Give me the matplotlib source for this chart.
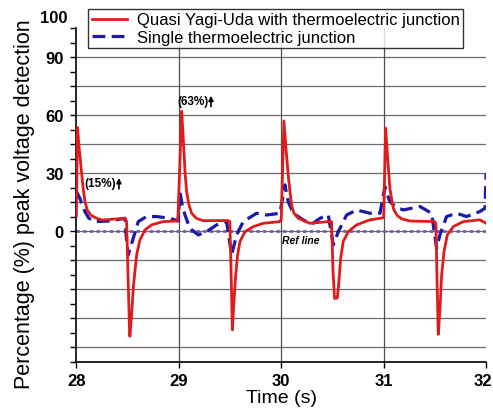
import matplotlib
matplotlib.use("Agg")
import matplotlib.pyplot as plt
import matplotlib.transforms as mtransforms
import numpy as np

# data (time in s, value in %)
red_t = [28.000, 28.010, 28.027, 28.049, 28.066, 28.083, 28.106, 28.139, 28.197, 28.254, 28.474,
         28.490, 28.505, 28.518, 28.522, 28.539, 28.555, 28.571, 28.588, 28.620, 28.669, 28.734,
         28.848, 28.990,
         29.000, 29.028, 29.043, 29.060, 29.076, 29.099, 29.125, 29.171, 29.236, 29.483,
         29.498, 29.512, 29.523, 29.538, 29.555, 29.574, 29.597, 29.646, 29.727, 29.824, 29.987,
         30.000, 30.026, 30.046, 30.068, 30.085, 30.101, 30.124, 30.166, 30.280, 30.459,
         30.491, 30.505, 30.520, 30.547, 30.563, 30.580, 30.605, 30.654, 30.736, 30.866, 30.964,
         31.000, 31.019, 31.039, 31.061, 31.081, 31.100, 31.133, 31.176, 31.256, 31.497,
         31.510, 31.523, 31.533, 31.550, 31.566, 31.589, 31.621, 31.680, 31.777, 31.940, 32.000]
red_v = [8, 53.6, 43, 31, 22.2, 15.4, 11, 8.4, 6.7, 5.8, 6.7,
         5, -25, -50, -54.3, -43.3, -29.5, -20.9, -12.2, -4.5, 0.7, 3.3,
         5.0, 5.3,
         20, 62, 48, 30.9, 20.5, 13.6, 9.3, 6.7, 5.5, 5.5,
         5, -25, -51, -36.4, -22.6, -12.2, -5.3, -0.2, 2.4, 4.1, 5.0,
         6, 57, 43, 29, 20.5, 13.6, 9.3, 6.7, 4.1, 5.0,
         5, -20, -34.7, -34.5, -26, -14, -5.3, -0.2, 3.3, 5.9, 6.7,
         7, 53.3, 37.8, 22, 15.4, 11, 8.1, 6.4, 5.3, 5.0,
         4, -30, -53.3, -39.8, -22.6, -10.5, -1.9, 2.4, 5.0, 5.9, 4.1]

blue_t = [28.000, 28.034, 28.060, 28.083, 28.120, 28.181, 28.327, 28.474, 28.490, 28.506,
          28.555, 28.604, 28.685, 28.783, 28.913, 28.994,
          29.010, 29.035, 29.060, 29.108, 29.190, 29.271, 29.369, 29.466, 29.515, 29.564,
          29.629, 29.759, 29.857, 29.987,
          30.036, 30.050, 30.068, 30.117, 30.215, 30.297, 30.378, 30.459, 30.508, 30.557,
          30.638, 30.736, 30.866, 30.964,
          31.013, 31.035, 31.061, 31.110, 31.191, 31.354, 31.468, 31.517, 31.549, 31.614,
          31.712, 31.810, 31.940, 31.989, 32.000]
blue_v = [20.5, 17, 13, 10.2, 6.8, 5.0, 5.3, 6.7, -5, -12.2,
          -3.6, 5.0, 7.6, 7.6, 6.7, 5.3,
          20.5, 13, 8.4, 1.5, -1.9, -0.2, 3.3, 5.0, -12.2, -1.9,
          5.0, 9.3, 8.4, 9.3,
          24, 20, 15.3, 9.3, 5.9, 3.6, 6.7, 8.4, -7.1, -0.2,
          8.4, 11, 9.3, 9.3,
          23.1, 19, 15.3, 12.8, 11, 12.8, 9.3, -8.8, -1.9, 7.6,
          9.3, 7.6, 10.2, 11.9, 30]

x_ticks = [28, 29, 30, 31, 32]
y_ticks = [0, 30, 60, 90]

plt.rcParams["font.family"] = ["Liberation Sans", "DejaVu Sans"]
tick_font = ["Liberation Sans Narrow", "Liberation Sans", "DejaVu Sans"]

fig = plt.figure(figsize=(4.93, 4.10), dpi=100)
ax = fig.add_axes([0.155, 0.115, 0.831, 0.814])

# grid
for g in np.arange(-60, 91, 15):
    ax.axhline(g, color="#6a6a6a", lw=0.9, zorder=0)
for g in [29, 30, 31]:
    ax.axvline(g, color="#505050", lw=0.9, zorder=0)

# reference line
ax.axhline(0, color="#7a5aa8", lw=2, ls=(0, (1.2, 1.2)), zorder=1)

ax.plot(red_t, red_v, color="#e01b1b", lw=2, zorder=3,
        label="Quasi Yagi-Uda with thermoelectric junction")
ax.plot(blue_t, blue_v, color="#1a1aa8", lw=2.3, ls=(0, (4, 2)), zorder=2,
        label="Single thermoelectric junction")

ax.set_xlim(28, 32)
ax.set_ylim(-67.5, 105)
ax.set_xticks(x_ticks)
ax.set_yticks(y_ticks)
ax.set_yticks(np.arange(-67.5, 105.1, 7.5), minor=True)
ax.tick_params(axis="both", which="both", direction="out", length=4, width=1)
ax.tick_params(axis="y", which="major", pad=5)
ax.tick_params(axis="x", which="major", pad=4)
for lab in ax.get_xticklabels() + ax.get_yticklabels():
    lab.set_fontweight("bold")
    lab.set_fontsize(12)
    lab.set_family(tick_font)
# last x label sits at the figure edge, nudge it in a little
last = ax.get_xticklabels()[-1]
last.set_transform(last.get_transform() +
                   mtransforms.ScaledTranslation(-3 / 100, 0, fig.dpi_scale_trans))
ax.text(-0.022, 1.033, "100", transform=ax.transAxes, ha="right", va="center",
        fontsize=12, fontweight="bold", family=tick_font)

for s in ["top", "right"]:
    ax.spines[s].set_visible(False)
ax.spines["left"].set_linewidth(1.2)
ax.spines["bottom"].set_linewidth(1.2)

ax.set_xlabel("Time (s)", fontsize=14, labelpad=1)
ax.set_ylabel("Percentage (%) peak voltage detection", fontsize=15.5)
ax.yaxis.set_label_coords(-0.1, 0.476)

# annotations
ax.text(28.99, 67.2, "(63%)", fontsize=8.5, fontweight="bold", va="center")
ax.annotate("", xy=(29.314, 71.5), xytext=(29.314, 63),
            arrowprops=dict(arrowstyle="-|>", color="black", lw=1.2, mutation_scale=7))
ax.text(28.08, 24.8, "(15%)", fontsize=8.5, fontweight="bold", va="center")
ax.annotate("", xy=(28.415, 29), xytext=(28.415, 20.5),
            arrowprops=dict(arrowstyle="-|>", color="black", lw=1.2, mutation_scale=7))
ax.text(30.01, -4.3, "Ref line", fontsize=7.5, fontweight="bold", style="italic", va="center")

leg = ax.legend(loc="upper left", bbox_to_anchor=(0.029, 1.057), borderaxespad=0,
                fontsize=12, frameon=True, fancybox=False, edgecolor="black",
                handlelength=2.1, borderpad=0.2, labelspacing=0.15, handletextpad=0.6)
leg.get_frame().set_linewidth(1)
leg.set_zorder(5)

fig.savefig("out.png", dpi=100)
